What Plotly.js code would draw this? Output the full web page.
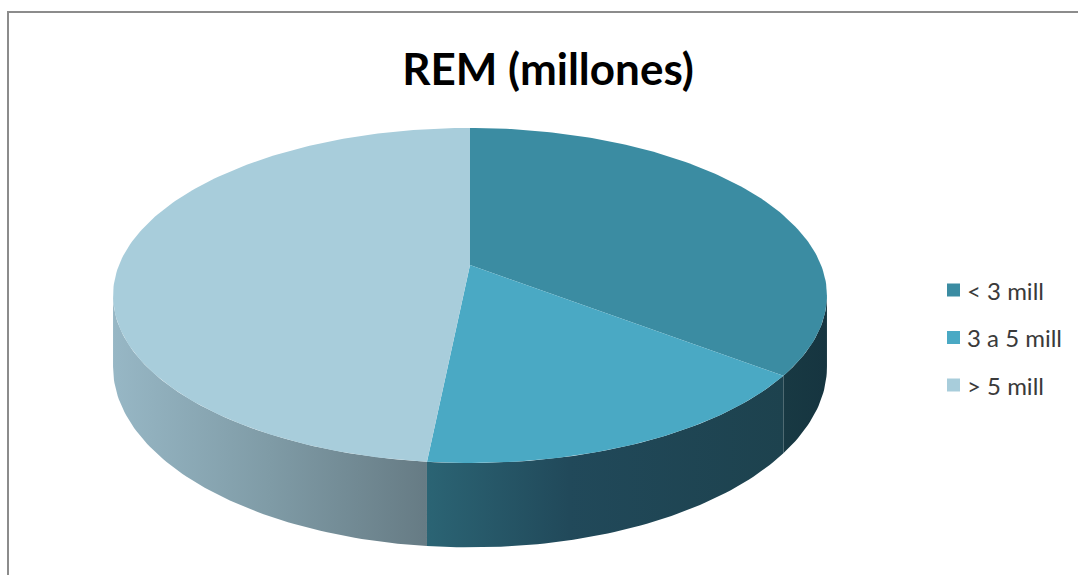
<!DOCTYPE html>
<html>
<head>
<meta charset="utf-8">
<script src="https://cdn.plot.ly/plotly-3.0.1.min.js"></script>
<style>html,body{margin:0;padding:0;background:#fff;}#chart{width:1078px;height:575px;}</style>
</head>
<body>
<div id="chart"></div>
<script>
// ---- data ----
const categories = ['< 3 mill', '3 a 5 mill', '> 5 mill'];
const values = [35.4, 16.2, 48.4];
const topColors = ['#3b8ca2', '#4aa9c4', '#a8cddb'];
const sideScales = [
  [[0, '#183943'], [1, '#163540']],
  [[0, '#2b6474'], [0.4, '#21495a'], [1, '#1d424e']],
  [[0, '#97b7c5'], [0.5, '#7f9ba6'], [1, '#667b84']]
];
const titleText = 'REM (millones)';

// ---- geometry of the 3D pie (pixel space) ----
const W = 1078, H = 575;
const geo = {cx: 470, cy: 265, A: 351, B: 162, k: 0.182, D: 69};
function proj(theta, depth) {
  const t = theta * Math.PI / 180;
  const u = Math.sin(t), v = Math.cos(t);
  const s = 1 / (1 + geo.k * v);
  return [geo.cx + geo.A * u * s, geo.cy - geo.B * v * s + depth * geo.D * s];
}
function arc(a0, a1, depth) {
  const pts = [];
  const n = Math.max(2, Math.ceil(Math.abs(a1 - a0)));
  for (let i = 0; i <= n; i++) pts.push(proj(a0 + (a1 - a0) * i / n, depth));
  return pts;
}
const total = values.reduce((a, b) => a + b, 0);
const silA = Math.atan2(Math.sqrt(1 - geo.k * geo.k), -geo.k) * 180 / Math.PI;
const sideFrom = silA, sideTo = 360 - silA;

const sideTraces = [], topTraces = [];
let cum = 0;
values.forEach((val, i) => {
  const a0 = cum / total * 360;
  const a1 = (cum + val) / total * 360;
  cum += val;
  // top face
  const top = [[geo.cx, geo.cy]].concat(arc(a0, a1, 0));
  top.push([geo.cx, geo.cy]);
  topTraces.push({
    type: 'scatter', mode: 'lines', fill: 'toself',
    x: top.map(p => p[0]), y: top.map(p => p[1]),
    fillcolor: topColors[i], line: {width: 0, color: topColors[i]},
    hoverinfo: 'skip', showlegend: false
  });
  // side face
  const s0 = Math.max(a0, sideFrom), s1 = Math.min(a1, sideTo);
  if (s1 > s0) {
    const upper = arc(s0, s1, 0);
    const lower = arc(s1, s0, 1);
    const poly = upper.concat(lower);
    poly.push(upper[0]);
    sideTraces.push({
      type: 'scatter', mode: 'lines', fill: 'toself',
      x: poly.map(p => p[0]), y: poly.map(p => p[1]),
      fillcolor: sideScales[i][0][1],
      fillgradient: {type: 'horizontal', colorscale: sideScales[i]},
      line: {width: 0, color: sideScales[i][0][1]},
      hoverinfo: 'skip', showlegend: false
    });
  }
});

// ---- legend (annotations + swatches) ----
const legX = 947, legY0 = 290, legDy = 47.5, sw = 13;
const annotations = [], shapes = [];
categories.forEach((c, i) => {
  const yc = legY0 + i * legDy;
  shapes.push({type: 'rect', xref: 'x', yref: 'y', x0: legX, x1: legX + sw, y0: yc - sw / 2, y1: yc + sw / 2,
    fillcolor: topColors[i], line: {width: 0}});
  annotations.push({xref: 'x', yref: 'y', x: legX + sw + 5, y: yc, xanchor: 'left', yanchor: 'middle',
    text: c.replace('<', '&lt;').replace('>', '&gt;'), showarrow: false,
    font: {family: 'Lato, sans-serif', size: 24, color: '#3a3a3a'}});
});
// outer chart border
shapes.push({type: 'rect', xref: 'x', yref: 'y', x0: 8, x1: W + 20, y0: 12, y1: H + 20,
  line: {color: '#8c8c8c', width: 2}, fillcolor: 'rgba(0,0,0,0)'});

const layout = {
  width: W, height: H,
  margin: {l: 0, r: 0, t: 0, b: 0, pad: 0},
  paper_bgcolor: '#ffffff', plot_bgcolor: '#ffffff',
  showlegend: false,
  title: {text: '<b>' + titleText + '</b>', x: 548 / W, xanchor: 'center', y: 1 - 70 / H, yanchor: 'middle',
    font: {family: 'Lato, sans-serif', size: 44, color: '#000000'}},
  xaxis: {range: [0, W], visible: false, fixedrange: true},
  yaxis: {range: [H, 0], visible: false, fixedrange: true},
  annotations: annotations, shapes: shapes
};
Plotly.newPlot('chart', sideTraces.concat(topTraces), layout, {staticPlot: true, displayModeBar: false});
</script>
</body>
</html>
